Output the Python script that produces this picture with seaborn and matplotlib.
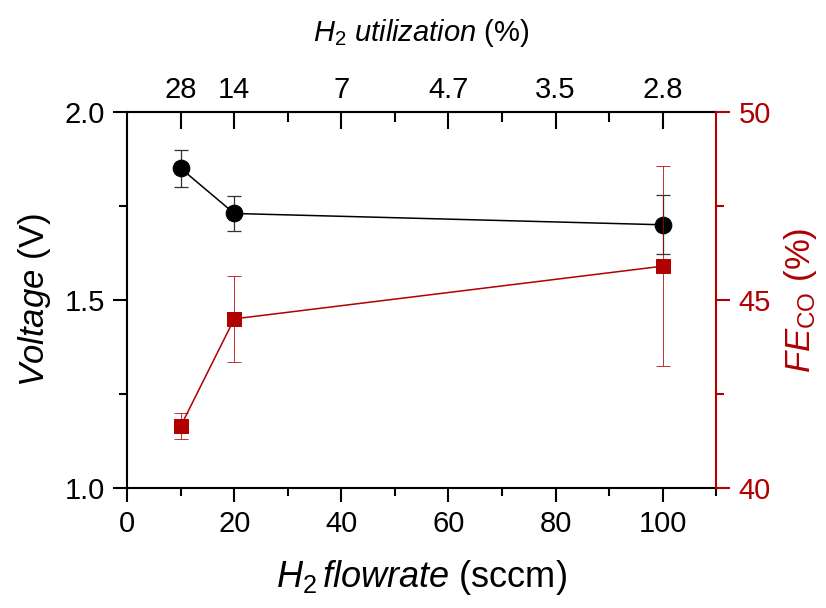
import matplotlib
matplotlib.use("Agg")
import matplotlib.pyplot as plt
import seaborn as sns
import pandas as pd
from matplotlib.ticker import MultipleLocator, FixedLocator, FormatStrFormatter

# ---- data ----
flowrate = [10, 20, 100]
voltage = [1.85, 1.73, 1.70]
voltage_err = [0.05, 0.047, 0.078]
fe_co = [41.65, 44.5, 45.9]
fe_co_err = [0.35, 1.14, 2.65]
util_pos = [10, 20, 40, 60, 80, 100]
util_labels = ["28", "14", "7", "4.7", "3.5", "2.8"]

RED = "#B00000"

sns.set_theme(style="ticks")
plt.rcParams["font.family"] = ["Liberation Sans", "DejaVu Sans"]
plt.rcParams["mathtext.fontset"] = "custom"
plt.rcParams["mathtext.rm"] = "Liberation Sans"
plt.rcParams["mathtext.it"] = "Liberation Sans:italic"
plt.rcParams["mathtext.bf"] = "Liberation Sans:bold"
plt.rcParams["text.color"] = "black"
plt.rcParams["axes.labelcolor"] = "black"
plt.rcParams["xtick.color"] = "black"
plt.rcParams["ytick.color"] = "black"

df = pd.DataFrame({"flow": flowrate, "V": voltage, "Verr": voltage_err,
                   "FE": fe_co, "FEerr": fe_co_err})

fig = plt.figure(figsize=(8.26, 6.08), dpi=100)
ax = fig.add_axes([0.154, 0.197, 0.713, 0.619])
ax2 = ax.twinx()

# voltage
ax.errorbar(df["flow"], df["V"], yerr=df["Verr"], fmt="none", ecolor="#333333",
            elinewidth=0.9, capsize=5, capthick=0.9, zorder=2)
sns.lineplot(data=df, x="flow", y="V", ax=ax, color="black", marker="o",
             markersize=12, markeredgecolor="black", linewidth=1.1, zorder=3)

# FE
ax2.errorbar(df["flow"], df["FE"], yerr=df["FEerr"], fmt="none", ecolor=RED,
             elinewidth=0.7, capsize=5, capthick=0.7, alpha=0.8, zorder=2)
sns.lineplot(data=df, x="flow", y="FE", ax=ax2, color=RED, marker="s",
             markersize=10, markeredgecolor=RED, linewidth=1.1, zorder=3)

ax.set_xlim(0, 110)
ax.set_ylim(1.0, 2.0)
ax2.set_ylim(40, 50)

ax.xaxis.set_major_locator(MultipleLocator(20))
ax.xaxis.set_minor_locator(MultipleLocator(10))
ax.yaxis.set_major_locator(MultipleLocator(0.5))
ax.yaxis.set_minor_locator(MultipleLocator(0.25))
ax.yaxis.set_major_formatter(FormatStrFormatter("%.1f"))
ax2.yaxis.set_major_locator(MultipleLocator(5))
ax2.yaxis.set_minor_locator(MultipleLocator(2.5))

tick_fs = 21
ax.tick_params(axis="both", which="major", direction="out", length=10, width=1.5,
               labelsize=tick_fs, colors="black", pad=6)
ax.tick_params(axis="both", which="minor", direction="out", length=6, width=1.5)
ax2.tick_params(axis="y", which="major", direction="out", length=10, width=1.5,
                labelsize=tick_fs, colors=RED, pad=6)
ax2.tick_params(axis="y", which="minor", direction="out", length=6, width=1.5, colors=RED)

for s in ["left", "bottom", "top"]:
    ax.spines[s].set_linewidth(1.5)
    ax.spines[s].set_color("black")
ax.spines["right"].set_visible(False)
for s in ["left", "bottom", "top"]:
    ax2.spines[s].set_visible(False)
ax2.spines["right"].set_color(RED)
ax2.spines["right"].set_linewidth(1.5)

# top axis
sec = ax.secondary_xaxis("top")
sec.xaxis.set_major_locator(FixedLocator(util_pos))
sec.set_xticklabels(util_labels)
sec.xaxis.set_minor_locator(FixedLocator([30, 50, 70, 90]))
sec.tick_params(axis="x", which="major", direction="in", length=12, width=1.5,
                labelsize=tick_fs, pad=6, colors="black")
sec.tick_params(axis="x", which="minor", direction="in", length=7, width=1.5)
sec.spines["top"].set_linewidth(1.5)
sec.set_xlabel(r"$\mathit{H}_{2}\ \mathit{utilization}$ (%)", fontsize=21, labelpad=25)

ax.set_xlabel(r"$\mathit{H}_{2}\,\mathit{flowrate}$ (sccm)", fontsize=26, labelpad=14)
ax.set_ylabel(r"$\mathit{Voltage}$ (V)", fontsize=25, labelpad=8)
ax2.set_ylabel(r"$\mathit{FE}_{\mathrm{CO}}$ (%)", fontsize=25, color=RED, labelpad=8)

fig.savefig("out.png", dpi=100, facecolor="white")
